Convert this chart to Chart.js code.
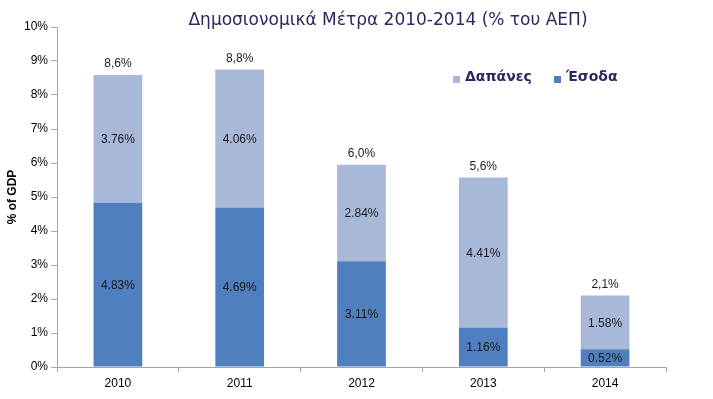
<!DOCTYPE html>
<html>
<head>
<meta charset="utf-8">
<script src="https://cdn.jsdelivr.net/npm/chart.js@4"></script>
<style>
  html, body { margin: 0; padding: 0; background: #fff; }
  #wrap { width: 713px; height: 399px; }
</style>
</head>
<body>
<div id="wrap"><canvas id="myChart" width="713" height="399"></canvas></div>
<script>
const years = ['2010', '2011', '2012', '2013', '2014'];
const esoda = [4.83, 4.69, 3.11, 1.16, 0.52];
const dapanes = [3.76, 4.06, 2.84, 4.41, 1.58];
const totals = ['8,6%', '8,8%', '6,0%', '5,6%', '2,1%'];
const title = 'Δημοσιονομικά Μέτρα 2010-2014 (% του ΑΕΠ)';

// labels inside the segments + totals above bars
const labelsPlugin = {
  id: 'labels',
  afterDatasetsDraw(chart) {
    const ctx = chart.ctx;
    ctx.save();
    ctx.font = '12px "Liberation Sans", Arial, sans-serif';
    ctx.fillStyle = '#1a1a1a';
    ctx.textAlign = 'center';
    ctx.textBaseline = 'middle';
    chart.data.datasets.forEach((ds, i) => {
      chart.getDatasetMeta(i).data.forEach((bar, j) => {
        const mid = (bar.y + bar.base) / 2;
        ctx.fillText(ds.data[j].toFixed(2) + '%', bar.x, mid + 1);
      });
    });
    const top = chart.getDatasetMeta(1).data;
    top.forEach((bar, j) => {
      ctx.fillText(totals[j], bar.x, bar.y - 11);
    });
    ctx.restore();
  }
};

const titlePlugin = {
  id: 'customTitle',
  afterDraw(chart) {
    const ctx = chart.ctx;
    ctx.save();
    ctx.font = '17px "DejaVu Sans", sans-serif';
    ctx.fillStyle = '#2e2862';
    ctx.textAlign = 'center';
    ctx.textBaseline = 'middle';
    ctx.fillText(title, 388, 21);

    // legend inside plot
    ctx.font = 'bold 14px "DejaVu Sans", sans-serif';
    ctx.textAlign = 'left';
    const items = [
      { ds: chart.data.datasets[1], x: 453 },
      { ds: chart.data.datasets[0], x: 554 }
    ];
    items.forEach(it => {
      ctx.fillStyle = it.ds.backgroundColor;
      ctx.fillRect(it.x, 76, 7, 7);
      ctx.fillStyle = '#2e2862';
      ctx.fillText(it.ds.label, it.x + 12, 77);
    });
    ctx.restore();
  }
};

const ctx = document.getElementById('myChart').getContext('2d');
const myChart = new Chart(ctx, {
  type: 'bar',
  data: {
    labels: years,
    datasets: [
      {
        label: 'Έσοδα',
        data: esoda,
        backgroundColor: '#4f7fbe',
        barPercentage: 0.8,
        categoryPercentage: 0.5
      },
      {
        label: 'Δαπάνες',
        data: dapanes,
        backgroundColor: '#a8b8d8',
        barPercentage: 0.8,
        categoryPercentage: 0.5
      }
    ]
  },
  options: {
    responsive: false,
    animation: false,
    layout: { padding: { left: 0, right: 47, top: 27, bottom: 0 } },
    plugins: {
      legend: { display: false },
      title: { display: false },
      tooltip: { enabled: false }
    },
    scales: {
      x: {
        stacked: true,
        afterFit(scale) { scale.height = 32; },
        grid: {
          offset: true,
          drawOnChartArea: false,
          tickLength: 5,
          color: '#a6a6a6'
        },
        border: { color: '#a6a6a6' },
        ticks: {
          color: '#000',
          padding: 4,
          font: { family: '"Liberation Sans", Arial, sans-serif', size: 12 }
        }
      },
      y: {
        stacked: true,
        min: 0,
        max: 10,
        afterFit(scale) { scale.width = 57; },
        grid: {
          drawOnChartArea: false,
          tickLength: 6,
          color: '#a6a6a6'
        },
        border: { color: '#a6a6a6' },
        ticks: {
          stepSize: 1,
          color: '#000',
          padding: 3,
          font: { family: '"Liberation Sans", Arial, sans-serif', size: 12 },
          callback: v => v + '%'
        },
        title: {
          display: true,
          text: '% of GDP',
          color: '#000',
          padding: { top: 5, bottom: 0 },
          font: { family: '"Liberation Sans", Arial, sans-serif', size: 12, weight: 'bold' }
        }
      }
    }
  },
  plugins: [labelsPlugin, titlePlugin]
});
</script>
</body>
</html>
